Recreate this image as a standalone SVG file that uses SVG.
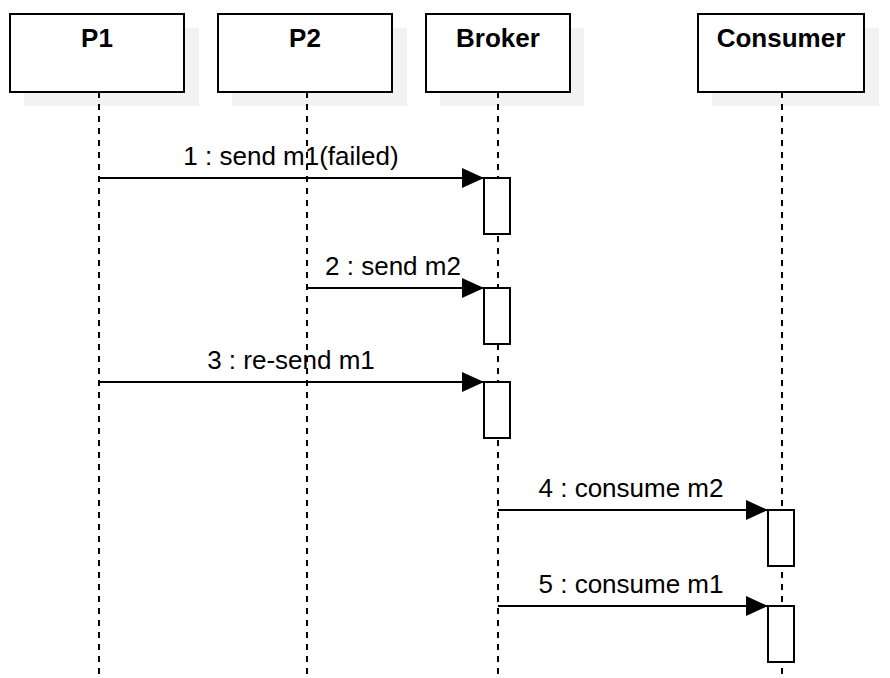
<svg xmlns="http://www.w3.org/2000/svg" width="890" height="678" viewBox="0 0 890 678">
<defs>
<style>
.shadow{fill:#f2f2f2;stroke:none}
.box{fill:#ffffff;stroke:#000000;stroke-width:2}
.title{font-family:"Liberation Sans",Arial,sans-serif;font-size:26px;font-weight:bold;fill:#000;text-anchor:middle}
.life{stroke:#000;stroke-width:2;stroke-dasharray:6 6;fill:none}
.act{fill:#ffffff;stroke:#000;stroke-width:2}
.msg{stroke:#000;stroke-width:2;fill:none;marker-end:url(#arr)}
.lbl{font-family:"Liberation Sans",Arial,sans-serif;font-size:26px;fill:#000;text-anchor:middle}
</style>
<marker id="arr" markerWidth="12" markerHeight="10" refX="11" refY="5" orient="auto" markerUnits="strokeWidth">
<path d="M0,0 L11,5 L0,10 Z" fill="#000"/>
</marker>
</defs>
<rect width="890" height="678" fill="#ffffff"/>
<g id="P1">
<rect class="shadow" x="24" y="28" width="175" height="78"/>
<line class="life" x1="99" y1="92" x2="99" y2="678"/>
<rect class="box" x="10" y="14" width="174" height="78"/>
<text class="title" x="97" y="47">P1</text>
</g>
<g id="P2">
<rect class="shadow" x="232" y="28" width="175" height="78"/>
<line class="life" x1="307" y1="92" x2="307" y2="678"/>
<rect class="box" x="218" y="14" width="174" height="78"/>
<text class="title" x="305" y="47">P2</text>
</g>
<g id="Broker">
<rect class="shadow" x="440" y="28" width="144" height="78"/>
<line class="life" x1="498" y1="92" x2="498" y2="678"/>
<rect class="box" x="426" y="14" width="144" height="78"/>
<text class="title" x="498" y="47">Broker</text>
<rect class="act" x="484" y="178" width="26" height="56"/>
<rect class="act" x="484" y="288" width="26" height="56"/>
<rect class="act" x="484" y="382" width="26" height="56"/>
</g>
<g id="Consumer">
<rect class="shadow" x="712" y="28" width="167" height="78"/>
<line class="life" x1="782" y1="92" x2="782" y2="678"/>
<rect class="box" x="698" y="14" width="166" height="78"/>
<text class="title" x="781" y="47">Consumer</text>
<rect class="act" x="768" y="510" width="26" height="56"/>
<rect class="act" x="768" y="606" width="26" height="56"/>
</g>
<g id="connectors">
<line class="msg" x1="99" y1="178" x2="484" y2="178"/>
<text class="lbl" x="291" y="165">1 : send m1(failed)</text>
<line class="msg" x1="307" y1="288" x2="484" y2="288"/>
<text class="lbl" x="393" y="275">2 : send m2</text>
<line class="msg" x1="99" y1="382" x2="484" y2="382"/>
<text class="lbl" x="291" y="369">3 : re-send m1</text>
<line class="msg" x1="498" y1="510" x2="768" y2="510"/>
<text class="lbl" x="631" y="497">4 : consume m2</text>
<line class="msg" x1="498" y1="606" x2="768" y2="606"/>
<text class="lbl" x="631" y="593">5 : consume m1</text>
</g>
</svg>
